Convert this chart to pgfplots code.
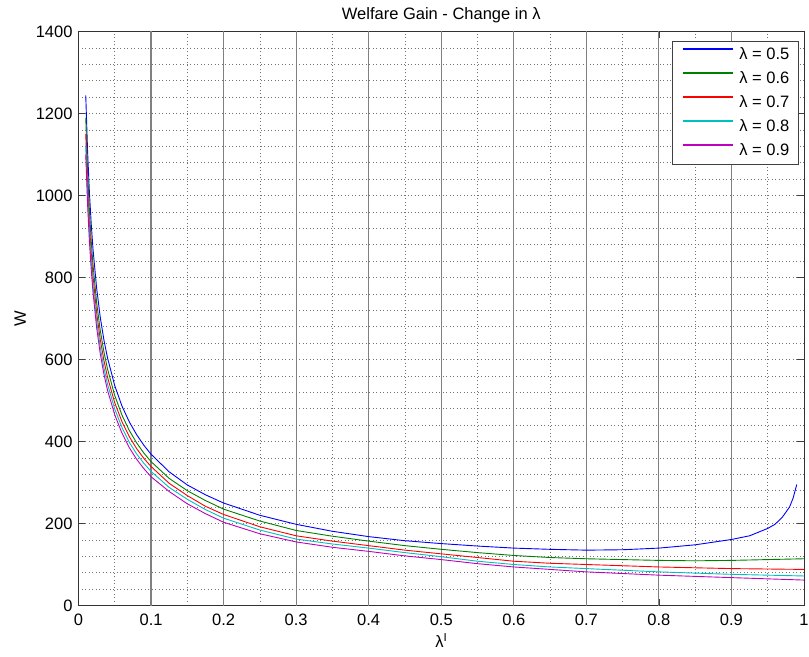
\documentclass[border=0pt]{standalone}
\usepackage{fontspec}
\setmainfont{Liberation Sans}
\usepackage{pgfplots}
\pgfplotsset{compat=1.18}
\definecolor{mgreen}{rgb}{0,0.5,0}
\definecolor{mcyan}{rgb}{0,0.75,0.75}
\definecolor{mmag}{rgb}{0.75,0,0.75}
\newcommand{\fs}{\fontsize{16.5bp}{19bp}\selectfont}

\begin{document}
\begin{tikzpicture}
\path[use as bounding box] (-78.5bp,-51.5bp) rectangle (730.5bp,605.5bp);
\begin{axis}[
  at={(0,0)}, anchor=south west,
  scale only axis, width=725.5bp, height=574bp,
  xmin=0, xmax=1, ymin=0, ymax=1400,
  xtick={0,0.1,0.2,0.3,0.4,0.5,0.6,0.7,0.8,0.9,1},
  xticklabels={0,0.1,0.2,0.3,0.4,0.5,0.6,0.7,0.8,0.9,1},
  ytick={0,200,400,600,800,1000,1200,1400},
  minor x tick num=1, minor y tick num=4,
  xminorgrids=true, ymajorgrids=true, yminorgrids=true,
  grid style={black!55, line width=0.6bp, dash pattern=on 1bp off 2.5bp},
  tick align=inside, major tick length=7bp, minor tick length=0bp,
  tick style={black!75, line width=0.8bp},
  axis line style={black!80, line width=0.8bp},
  /pgf/number format/assume math mode=true,
  /pgf/number format/1000 sep={},
  tick label style={font=\fs},
  xticklabel style={anchor=base, yshift=-20.2bp, inner sep=0pt},
  yticklabel style={anchor=east, xshift=-5.8bp, inner sep=0pt},
  every axis title shift=0pt,
  title={Welfare Gain - Change in λ},
  title style={at={(axis description cs:0.5,1.02125)}, anchor=base, font=\fs, inner sep=0pt},
  xlabel={λ\textsuperscript{I}},
  xlabel style={at={(axis description cs:0.5,-0.074)}, anchor=base, font=\fs, inner sep=0pt},
  ylabel={W},
  ylabel style={at={(axis description cs:-0.0724,0.5)}, anchor=base, font=\fs, inner sep=0pt},
  legend style={at={(axis description cs:1,1)}, anchor=north east, xshift=-5bp, yshift=-9.5bp,
    draw=black!75, line width=0.8bp, fill=white, inner xsep=9.3bp, inner ysep=5.75bp,
    row sep=8.5bp, column sep=6bp, font=\fs,
    nodes={inner sep=0pt, text height=12bp, text depth=3.5bp}},
  legend cell align=left,
  legend image code/.code={\path (0bp,0bp); \draw[#1, line width=1.5bp] (0bp,5.8bp) -- (50bp,5.8bp);},
  every axis plot/.append style={line width=0.9bp},
]
\pgfplotsinvokeforeach{0.1,0.2,0.3,0.4,0.5,0.6,0.7,0.8,0.9}{
  \draw[black!50, line width=1.1bp] (axis cs:#1,0) -- (axis cs:#1,1400);
}
\addplot[color=blue, draw=blue] coordinates {
(0.01,1244) (0.0125,1109) (0.015,1009) (0.0175,932) (0.02,869) (0.025,774)
(0.03,703) (0.035,648) (0.04,604) (0.05,536) (0.06,486) (0.07,448) (0.08,417)
(0.09,391) (0.1,369) (0.125,326) (0.15,294) (0.175,270) (0.2,250) (0.25,220)
(0.3,198) (0.35,181) (0.4,168) (0.45,158) (0.5,151) (0.55,145) (0.6,140)
(0.65,137) (0.7,135) (0.75,136) (0.8,140) (0.85,148) (0.9,161) (0.925,170)
(0.95,188) (0.96,198) (0.97,215) (0.98,240) (0.985,262) (0.99,295)
};
\addlegendentry{λ = 0.5}
\addplot[color=mgreen, draw=mgreen] coordinates {
(0.01,1190) (0.0125,1060) (0.015,965) (0.0175,890) (0.02,831) (0.025,739)
(0.03,671) (0.035,619) (0.04,577) (0.05,512) (0.06,464) (0.07,427) (0.08,397)
(0.09,372) (0.1,351) (0.125,310) (0.15,280) (0.175,256) (0.2,235) (0.25,206)
(0.3,183) (0.35,169) (0.4,157) (0.45,146) (0.5,137) (0.55,129) (0.6,122)
(0.65,117) (0.7,114) (0.75,112) (0.8,110) (0.85,109) (0.9,110) (0.95,112) (1.0,114)
};
\addlegendentry{λ = 0.6}
\addplot[color=red, draw=red] coordinates {
(0.01,1150) (0.0125,1025) (0.015,932) (0.0175,860) (0.02,803) (0.025,714)
(0.03,649) (0.035,598) (0.04,557) (0.05,494) (0.06,448) (0.07,412) (0.08,383)
(0.09,359) (0.1,339) (0.125,298) (0.15,268) (0.175,242) (0.2,222) (0.25,192)
(0.3,170) (0.35,157) (0.4,146) (0.45,135) (0.5,126) (0.55,117) (0.6,108)
(0.65,103) (0.7,100) (0.75,97) (0.8,94) (0.85,92) (0.9,90) (0.95,89) (1.0,88)
};
\addlegendentry{λ = 0.7}
\addplot[color=mcyan, draw=mcyan] coordinates {
(0.01,1120) (0.0125,998) (0.015,907) (0.0175,837) (0.02,780) (0.025,694)
(0.03,630) (0.035,580) (0.04,540) (0.05,479) (0.06,434) (0.07,398) (0.08,370)
(0.09,347) (0.1,327) (0.125,288) (0.15,259) (0.175,234) (0.2,213) (0.25,184)
(0.3,162) (0.35,150) (0.4,140) (0.45,129) (0.5,119) (0.55,108) (0.6,100)
(0.65,94) (0.7,90) (0.75,86) (0.8,82) (0.85,79) (0.9,76) (0.95,74) (1.0,72)
};
\addlegendentry{λ = 0.8}
\addplot[color=mmag, draw=mmag] coordinates {
(0.01,1100) (0.0125,979) (0.015,889) (0.0175,820) (0.02,764) (0.025,678)
(0.03,614) (0.035,565) (0.04,525) (0.05,465) (0.06,420) (0.07,385) (0.08,357)
(0.09,334) (0.1,314) (0.125,278) (0.15,248) (0.175,224) (0.2,203) (0.25,175)
(0.3,155) (0.35,142) (0.4,132) (0.45,121) (0.5,112) (0.55,102) (0.6,94)
(0.65,88) (0.7,82) (0.75,78) (0.8,74) (0.85,71) (0.9,68) (0.95,65) (1.0,62)
};
\addlegendentry{λ = 0.9}
\end{axis}
\end{tikzpicture}
\end{document}
